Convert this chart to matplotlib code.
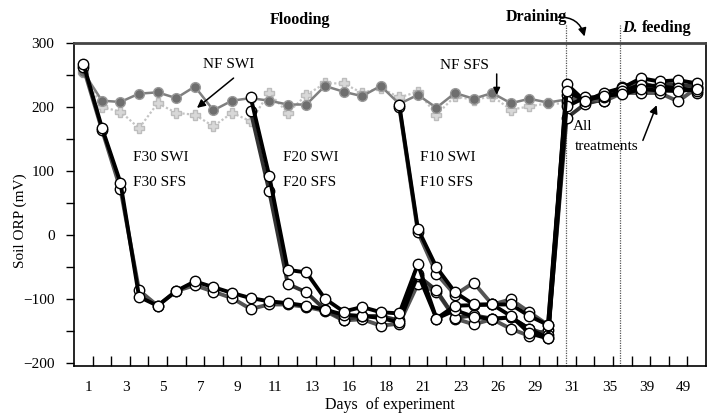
import numpy as np
import matplotlib
matplotlib.use('Agg')
import matplotlib.pyplot as plt

plt.rcParams['font.family'] = ['Liberation Serif', 'DejaVu Serif']

nan = np.nan

# soil ORP (mV) per sampling, 34 samplings
f30_swi = [268, 168, 82, -96, -110, -87, -72, -81, -90, -98, -103, -106, -110, -116, -124, -126,
           -129, -136, -60, -130, -117, -127, -131, -128, -146, -161,
           236, 209, 222, 230, 245, 240, 242, 237]
f30_sfs = [262, 165, 72, -86, -110, -87, -78, -88, -98, -115, -108, -108, -112, -118, -133, -131,
           -141, -138, -76, -88, -130, -139, -131, -146, -157, -148,
           219, 212, 209, 222, 222, 222, 209, 230]
f20_swi = [nan] * 9 + [216, 93, -54, -58, -99, -119, -112, -120, -122, -45, -130, -110, -109,
                       -108, -126, -153, -161, 201, 215, 215, 225, 235, 232, 230, 225]
f20_sfs = [nan] * 9 + [194, 69, -76, -89, -116, -132, -126, -126, -133, -63, -86, -129, -125,
                       -130, -128, -146, -155, 183, 205, 212, 228, 230, 235, 235, 232]
f10_swi = [nan] * 17 + [203, 10, -50, -89, -108, -108, -108, -126, -140,
                        225, 210, 218, 220, 228, 226, 225, 228]
f10_sfs = [nan] * 17 + [200, 5, -60, -93, -74, -108, -100, -120, -140,
                        210, 213, 210, 232, 238, 230, 232, 222]
nf_swi = [255, 200, 193, 167, 206, 191, 188, 170, 191, 178, 222, 191, 219, 237, 237, 222,
          230, 215, 224, 188, 217, 211, 217, 196, 201, 206,
          205, 215, 220, 225, 232, 235, 238, 235]
nf_sfs = [255, 210, 208, 221, 223, 214, 232, 195, 210, 214, 210, 204, 204, 233, 224, 217,
          233, 205, 219, 199, 222, 213, 222, 206, 213, 207,
          212, 214, 218, 228, 230, 232, 230, 228]

day_labels = ['1', '3', '5', '7', '9', '11', '13', '16', '18', '21', '23', '26', '29',
              '31', '35', '39', '49']

x = np.arange(len(nf_sfs))

fig = plt.figure(figsize=(7.07, 4.15), dpi=100)
ax = fig.add_axes([74 / 707, 49 / 415, 632 / 707, 323 / 415])

# no-flooding controls
ax.plot(x, nf_swi, color='#c4c4c4', lw=1.6, ls=(0, (1, 1)), marker='P', ms=7,
        mfc='#d8d8d8', mec='#bdbdbd', zorder=2)
ax.plot(x, nf_sfs, color='#808080', lw=1.8, marker='o', ms=7,
        mfc='#6e6e6e', mec='#9a9a9a', zorder=3)

# flooded treatments
for ys, col in [(f30_sfs, '#555555'), (f20_sfs, '#333333'), (f10_sfs, '#555555'),
                (f30_swi, 'black'), (f20_swi, 'black'), (f10_swi, 'black')]:
    ax.plot(x, ys, color=col, lw=2.8, marker='o', ms=7.5, mfc='white', mec='black',
            mew=1.0, zorder=4)

ax.set_xlim(-0.5, 33.5)
ax.set_ylim(-204, 300)

ax.set_yticks(np.arange(-200, 301, 100))
ax.set_yticks(np.arange(-150, 300, 100), minor=True)
ax.tick_params(axis='y', which='both', direction='out', length=6, width=1,
               labelsize=11, pad=8)

ax.set_xticks(np.arange(0.5, 33, 1), minor=True)
ax.set_xticks(np.arange(0, 33, 2) + 0.3)
ax.set_xticklabels(day_labels)
ax.tick_params(axis='x', which='minor', direction='in', length=7, width=1)
ax.tick_params(axis='x', which='major', length=0, labelsize=11, pad=11)

for s in ax.spines.values():
    s.set_linewidth(1.2)
ax.spines['top'].set_color('#444444')
ax.spines['top'].set_linewidth(2)

ax.set_xlabel('Days  of experiment', fontsize=11.5, labelpad=2)
ax.set_ylabel('Soil ORP (mV)', fontsize=11)
ax.yaxis.set_label_coords(-0.075, 0.45)

# period boundaries
for xv in (25.97, 28.85):
    ax.axvline(xv, ymin=0, ymax=1.056, color='#555555', lw=0.9, ls=(0, (1, 1)),
               clip_on=False, zorder=1)

ax.text(11.66, 336, 'Flooding', ha='center', va='center', fontsize=11.5,
        fontweight='bold', clip_on=False)
ax.text(24.4, 341, 'Draining', ha='center', va='center', fontsize=11.5,
        fontweight='bold', clip_on=False)
ax.text(29.0, 323, 'D.', ha='left', va='center', fontsize=11.5,
        fontweight='bold', fontstyle='italic', clip_on=False)
ax.text(30.05, 323, 'feeding', ha='left', va='center', fontsize=11.5,
        fontweight='bold', clip_on=False)
ax.annotate('', xy=(27.0, 306), xytext=(25.4, 340), annotation_clip=False,
            arrowprops=dict(arrowstyle='-|>', color='black', lw=1.1,
                            connectionstyle='arc3,rad=-0.45', mutation_scale=12))

ax.text(7.8, 266, 'NF SWI', ha='center', va='center', fontsize=11)
ax.annotate('', xy=(6.0, 196), xytext=(8.2, 248),
            arrowprops=dict(arrowstyle='-|>', color='black', lw=1.1, mutation_scale=12))
ax.text(20.5, 265, 'NF SFS', ha='center', va='center', fontsize=11)
ax.annotate('', xy=(22.24, 215), xytext=(22.24, 256),
            arrowprops=dict(arrowstyle='-|>', color='black', lw=1.1, mutation_scale=10))

for xl, lab in [(2.67, 'F30'), (10.74, 'F20'), (18.11, 'F10')]:
    ax.text(xl, 121, lab + ' SWI', ha='left', va='center', fontsize=11)
    ax.text(xl, 82, lab + ' SFS', ha='left', va='center', fontsize=11)

ax.text(26.35, 169, 'All', ha='left', va='center', fontsize=11)
ax.text(26.45, 139, 'treatments', ha='left', va='center', fontsize=11)
ax.annotate('', xy=(30.9, 207), xytext=(30.05, 144),
            arrowprops=dict(arrowstyle='-|>', color='black', lw=1.1, mutation_scale=12))

fig.savefig('out.png', dpi=100)
